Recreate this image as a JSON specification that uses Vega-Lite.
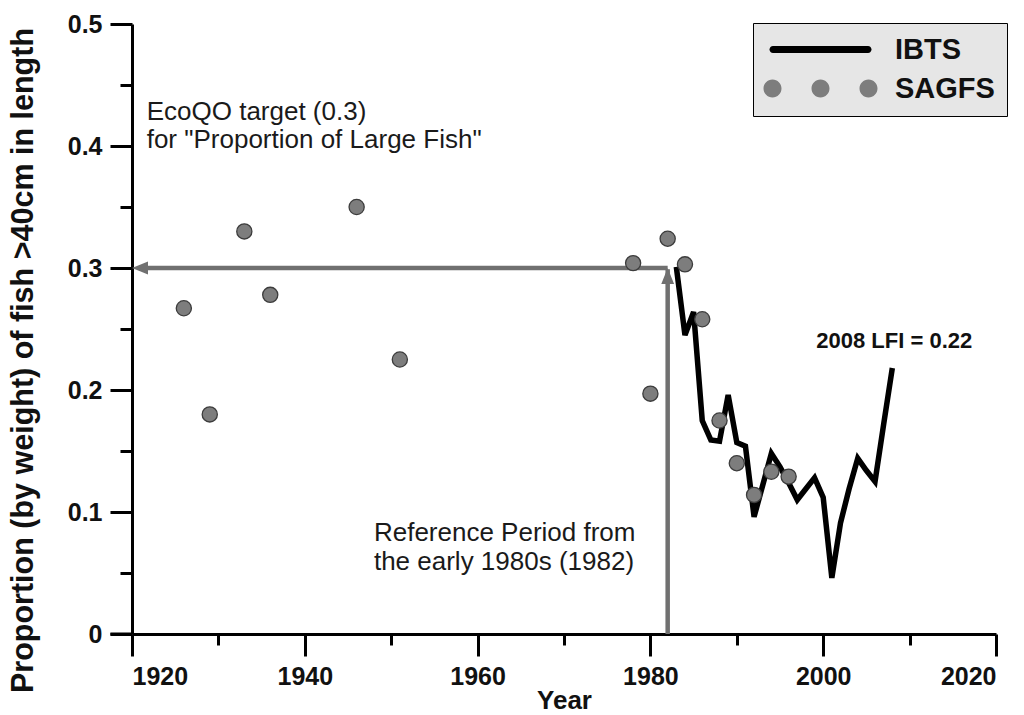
{
  "$schema": "https://vega.github.io/schema/vega-lite/v6.json",
  "width": 864,
  "height": 610,
  "autosize": "none",
  "padding": {"left": 132, "top": 24, "right": 28, "bottom": 81},
  "background": "white",
  "datasets": {
    "ibts": [
      {"year": 1983, "value": 0.301}, {"year": 1984, "value": 0.245}, {"year": 1985, "value": 0.264},
      {"year": 1986, "value": 0.175}, {"year": 1987, "value": 0.159}, {"year": 1988, "value": 0.158},
      {"year": 1989, "value": 0.196}, {"year": 1990, "value": 0.157}, {"year": 1991, "value": 0.154},
      {"year": 1992, "value": 0.096}, {"year": 1993, "value": 0.122}, {"year": 1994, "value": 0.148},
      {"year": 1995, "value": 0.137}, {"year": 1996, "value": 0.124}, {"year": 1997, "value": 0.110},
      {"year": 1998, "value": 0.119}, {"year": 1999, "value": 0.128}, {"year": 2000, "value": 0.112},
      {"year": 2001, "value": 0.046}, {"year": 2002, "value": 0.091}, {"year": 2003, "value": 0.119},
      {"year": 2004, "value": 0.144}, {"year": 2005, "value": 0.134}, {"year": 2006, "value": 0.125},
      {"year": 2007, "value": 0.172}, {"year": 2008, "value": 0.218}
    ],
    "sagfs": [
      {"year": 1926, "value": 0.267}, {"year": 1929, "value": 0.180}, {"year": 1933, "value": 0.330},
      {"year": 1936, "value": 0.278}, {"year": 1946, "value": 0.350}, {"year": 1951, "value": 0.225},
      {"year": 1978, "value": 0.304}, {"year": 1980, "value": 0.197}, {"year": 1982, "value": 0.324},
      {"year": 1984, "value": 0.303}, {"year": 1986, "value": 0.258}, {"year": 1988, "value": 0.175},
      {"year": 1990, "value": 0.140}, {"year": 1992, "value": 0.114}, {"year": 1994, "value": 0.133},
      {"year": 1996, "value": 0.129}
    ],
    "series": [{"series": "IBTS"}, {"series": "SAGFS"}],
    "one": [{}]
  },
  "layer": [
    {
      "data": {"name": "one"},
      "mark": {"type": "rule", "color": "black", "strokeWidth": 3},
      "encoding": {
        "x": {"datum": 1917.5, "type": "quantitative", "scale": {"domain": [1920, 2020], "nice": false, "zero": false},
          "axis": {
            "title": "Year",
            "values": [1920, 1930, 1940, 1950, 1960, 1970, 1980, 1990, 2000, 2010, 2020],
            "format": "d",
            "labelExpr": "datum.value % 20 == 0 ? datum.label : ''",
            "tickSize": {"condition": {"test": "datum.value % 20 != 0", "value": 11}, "value": 22},
            "labelPadding": 8,
            "titleFontSize": 26,
            "titleY": 53
          }
        },
        "x2": {"datum": 1920},
        "y": {"datum": 0, "type": "quantitative", "scale": {"domain": [0, 0.5], "nice": false},
          "axis": {
            "title": "Proportion (by weight) of fish >40cm in length",
            "values": [0, 0.05, 0.1, 0.15, 0.2, 0.25, 0.3, 0.35, 0.4, 0.45, 0.5],
            "labelExpr": "round(datum.value * 100) % 10 != 0 ? '' : (datum.value == 0 ? '0' : format(datum.value, '.1f'))",
            "tickSize": {"condition": {"test": "round(datum.value * 100) % 10 != 0", "value": 12}, "value": 22},
            "labelPadding": 8,
            "titleFontSize": 30.5,
            "titleX": -109,
            "titleY": 336,
            "titleBaseline": "middle"
          }
        }
      }
    },
    {
      "data": {"name": "one"},
      "mark": {"type": "rule", "color": "#707070", "strokeWidth": 4.5},
      "encoding": {
        "x": {"datum": 1921},
        "x2": {"datum": 1982},
        "y": {"datum": 0.3}
      }
    },
    {
      "data": {"name": "one"},
      "mark": {"type": "rule", "color": "#707070", "strokeWidth": 4.5},
      "encoding": {
        "x": {"datum": 1982},
        "y": {"datum": 0},
        "y2": {"datum": 0.299}
      }
    },
    {
      "data": {"name": "one"},
      "mark": {"type": "point", "filled": true, "opacity": 1, "color": "#707070", "size": 256, "shape": "M0,0L2,-0.8L2,0.8Z"},
      "encoding": {"x": {"datum": 1920}, "y": {"datum": 0.3}}
    },
    {
      "data": {"name": "one"},
      "mark": {"type": "point", "filled": true, "opacity": 1, "color": "#707070", "size": 256, "shape": "M0,0L-0.8,2L0.8,2Z"},
      "encoding": {"x": {"datum": 1982}, "y": {"datum": 0.3}}
    },
    {
      "data": {"name": "ibts"},
      "mark": {"type": "line", "color": "black", "strokeWidth": 5.5},
      "encoding": {
        "x": {"field": "year", "type": "quantitative"},
        "y": {"field": "value", "type": "quantitative"}
      }
    },
    {
      "data": {"name": "sagfs"},
      "mark": {"type": "point", "filled": true, "opacity": 1, "size": 230, "fill": "#7d7d7d", "stroke": "#3c3c3c", "strokeWidth": 1.3},
      "encoding": {
        "x": {"field": "year", "type": "quantitative"},
        "y": {"field": "value", "type": "quantitative"}
      }
    },
    {
      "data": {"name": "series"},
      "transform": [{"filter": "datum.series == 'none'"}],
      "mark": {"type": "point", "filled": true, "opacity": 1},
      "encoding": {
        "shape": {
          "field": "series", "type": "nominal",
          "scale": {
            "domain": ["IBTS", "SAGFS"],
            "range": [
              "M-4.75,-0.35L4.75,-0.35A0.35,0.35,0,0,1,4.75,0.35L-4.75,0.35A0.35,0.35,0,0,1,-4.75,-0.35Z",
              "M-5.7,0A0.9,0.9,0,1,0,-3.9,0A0.9,0.9,0,1,0,-5.7,0ZM-0.9,0A0.9,0.9,0,1,0,0.9,0A0.9,0.9,0,1,0,-0.9,0ZM3.9,0A0.9,0.9,0,1,0,5.7,0A0.9,0.9,0,1,0,3.9,0Z"
            ]
          },
          "legend": {"title": null, "orient": "none", "legendX": 621, "legendY": -1}
        },
        "fill": {
          "field": "series", "type": "nominal",
          "scale": {"domain": ["IBTS", "SAGFS"], "range": ["#000000", "#7d7d7d"]},
          "legend": {"title": null, "orient": "none", "legendX": 621, "legendY": -1}
        }
      }
    },
    {
      "data": {"name": "one"},
      "mark": {"type": "text", "align": "left", "baseline": "alphabetic", "font": "Liberation Sans", "fontSize": 26, "color": "#1a1a1a", "lineHeight": 28.5,
        "text": ["EcoQO target (0.3)", "for \"Proportion of Large Fish\""]},
      "encoding": {"x": {"datum": 1921.7}, "y": {"datum": 0.4216}}
    },
    {
      "data": {"name": "one"},
      "mark": {"type": "text", "align": "left", "baseline": "alphabetic", "font": "Liberation Sans", "fontSize": 26, "color": "#1a1a1a", "lineHeight": 28.5,
        "text": ["Reference Period from", "the early 1980s (1982)"]},
      "encoding": {"x": {"datum": 1948}, "y": {"datum": 0.0762}}
    },
    {
      "data": {"name": "one"},
      "mark": {"type": "text", "align": "left", "baseline": "alphabetic", "font": "Liberation Sans", "fontSize": 22, "fontWeight": "bold", "color": "#111111",
        "text": "2008 LFI = 0.22"},
      "encoding": {"x": {"datum": 1999.2}, "y": {"datum": 0.2344}}
    }
  ],
  "config": {
    "view": {"stroke": null},
    "font": "Liberation Sans",
    "axis": {
      "grid": false,
      "domainColor": "black",
      "domainWidth": 3,
      "tickColor": "black",
      "tickWidth": 3,
      "labelFont": "Liberation Sans",
      "labelFontSize": 25,
      "labelFontWeight": "bold",
      "labelColor": "#111111",
      "titleFont": "Liberation Sans",
      "titleFontWeight": "bold",
      "titleColor": "#111111"
    },
    "legend": {
      "fillColor": "#e6e6e6",
      "strokeColor": "black",
      "padding": 12,
      "symbolSize": 400,
      "symbolOffset": 41,
      "symbolStrokeColor": "#3a3a3a",
      "symbolStrokeWidth": 1,
      "labelFont": "Liberation Sans",
      "labelFontSize": 29,
      "labelFontWeight": "bold",
      "labelColor": "#111111",
      "labelOffset": 60,
      "rowPadding": 9
    }
  }
}
